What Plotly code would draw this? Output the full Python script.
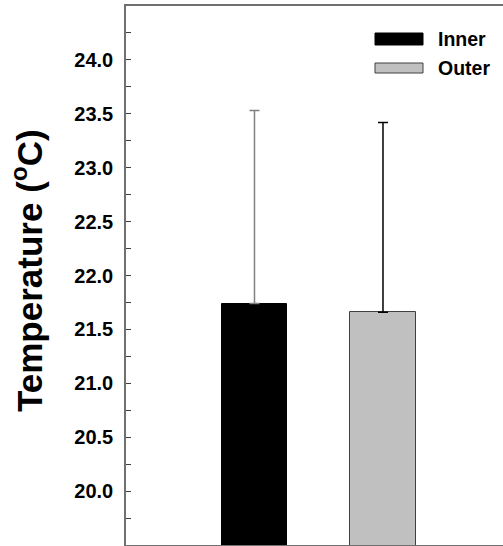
import plotly.graph_objects as go

categories = ["Inner", "Outer"]
means = [21.74, 21.66]
errors_up = [1.79, 1.76]
bar_colors = ["#000000", "#c0c0c0"]
bar_edges = ["#000000", "#404040"]
err_colors = ["#808080", "#000000"]
y_ticks = [20.0, 20.5, 21.0, 21.5, 22.0, 22.5, 23.0, 23.5, 24.0]
y_tick_labels = ["20.0", "20.5", "21.0", "21.5", "22.0", "22.5", "23.0", "23.5", "24.0"]

W, H = 503, 546
ML, MT, MB, MR = 126, 6, 1, 0
PW = W - ML - MR
PH = H - MT - MB

font_family = "Liberation Sans, Arial, sans-serif"

fig = go.Figure()
for i, cat in enumerate(categories):
    fig.add_trace(go.Bar(
        x=[cat], y=[means[i]], base=0, name=cat,
        width=0.506,
        marker=dict(color=bar_colors[i], line=dict(color=bar_edges[i], width=1)),
        error_y=dict(type="data", symmetric=False, array=[errors_up[i]], arrayminus=[0],
                     color=err_colors[i], thickness=1.5, width=5),
        showlegend=False, hoverinfo="skip",
    ))

def px2x(px):
    return (px - ML) / PW

def py2y(py):
    return 1 - (py - MT) / PH

shapes = []
annotations = []
legend_rows = [(39, 33, 45), (68, 63, 73)]
for i, cat in enumerate(categories):
    yc, y0, y1 = legend_rows[i]
    shapes.append(dict(type="rect", xref="paper", yref="paper",
                       x0=px2x(375), x1=px2x(423), y0=py2y(y1), y1=py2y(y0),
                       fillcolor=bar_colors[i], line=dict(color=bar_edges[i], width=1)))
    annotations.append(dict(text=cat, xref="paper", yref="paper", x=px2x(436), y=py2y(yc),
                            xanchor="left", yanchor="middle", showarrow=False,
                            font=dict(family=font_family, size=19.5, color="black", weight="bold")))

annotations.append(dict(text="Temperature (<sup>o</sup>C)", xref="paper", yref="paper",
                        x=px2x(27), y=py2y(271), xanchor="center", yanchor="middle",
                        textangle=-90, showarrow=False,
                        font=dict(family=font_family, size=35, color="black", weight="bold")))

fig.update_layout(
    width=W, height=H,
    margin=dict(l=ML, r=MR, t=MT, b=MB, pad=0),
    paper_bgcolor="white", plot_bgcolor="white",
    shapes=shapes, annotations=annotations,
    bargap=0,
    font=dict(family=font_family, color="black"),
)
fig.update_xaxes(
    type="category", range=[-1, 1.934], showticklabels=False, ticks="",
    showline=True, mirror=True, linecolor="#707070", linewidth=1.5,
    showgrid=False, zeroline=False,
)
fig.update_yaxes(
    range=[19.5, 24.5], tickvals=y_ticks, ticktext=y_tick_labels,
    ticks="inside", ticklen=5, tickwidth=1.2, tickcolor="#404040",
    minor=dict(dtick=0.25, tick0=19.75, ticks="inside", ticklen=5, tickwidth=1.2, tickcolor="#404040"),
    showline=True, linecolor="#707070", linewidth=1.5,
    showgrid=False, zeroline=False, ticklabelstandoff=7,
    tickfont=dict(family=font_family, size=20, color="black", weight="bold"),
)

fig.write_html("out.html", config={"displayModeBar": False},
               post_script="document.body.style.margin='0px';")
